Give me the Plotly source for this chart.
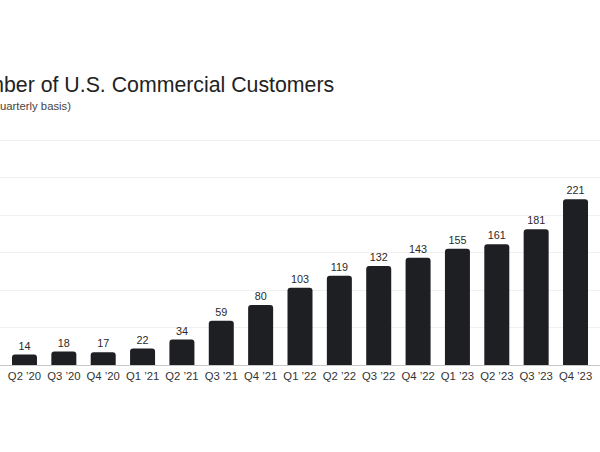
import plotly.graph_objects as go

quarters = ["Q2 ’20", "Q3 ’20", "Q4 ’20", "Q1 ’21", "Q2 ’21", "Q3 ’21", "Q4 ’21",
            "Q1 ’22", "Q2 ’22", "Q3 ’22", "Q4 ’22", "Q1 ’23", "Q2 ’23", "Q3 ’23", "Q4 ’23"]
customers = [14, 18, 17, 22, 34, 59, 80, 103, 119, 132, 143, 155, 161, 181, 221]

title_text = "Number of U.S. Commercial Customers"
subtitle_text = "(quarterly basis)"

FONT = "Liberation Sans, Arial, sans-serif"

PLOT_H = 228

fig = go.Figure(go.Bar(
    x=list(range(len(quarters))),
    y=customers,
    text=[str(v) for v in customers],
    textposition="outside",
    textfont=dict(size=10.8, color="#2a2a2a", family=FONT),
    marker=dict(color="#1e1f22", cornerradius=3, line=dict(width=0)),
    cliponaxis=False,
    hoverinfo="skip",
))

fig.update_layout(
    width=600, height=452,
    margin=dict(l=0, r=0, t=137, b=87),
    plot_bgcolor="white", paper_bgcolor="white",
    bargap=0.365,
    showlegend=False,
    font=dict(family=FONT),
    xaxis=dict(
        tickmode="array",
        tickvals=list(range(len(quarters))),
        ticktext=quarters,
        range=[-0.622, 14.622],
        showline=True, linecolor="#c8c8c8", linewidth=1,
        showgrid=False, zeroline=False,
        ticks="", tickfont=dict(size=11.3, color="#333333", family=FONT),
        fixedrange=True,
    ),
    yaxis=dict(
        range=[0, 304],
        tickvals=[50, 100, 150, 200, 250, 300],
        showticklabels=False,
        showgrid=True, gridcolor="#f0f0f0", gridwidth=1,
        zeroline=False, showline=False,
        fixedrange=True,
    ),
    annotations=[
        dict(text=title_text, xref="paper", yref="paper", x=336/600, y=(365-85)/PLOT_H,
             xanchor="right", yanchor="middle", showarrow=False,
             font=dict(size=21.3, color="#222222", family=FONT)),
        dict(text=subtitle_text, xref="paper", yref="paper", x=73/600, y=(365-106)/PLOT_H,
             xanchor="right", yanchor="middle", showarrow=False,
             font=dict(size=11.3, color="#444444", family=FONT)),
    ],
)

fig.write_html("out.html", config={"displayModeBar": False},
               post_script="document.body.style.margin='0';document.body.style.overflow='hidden';")
